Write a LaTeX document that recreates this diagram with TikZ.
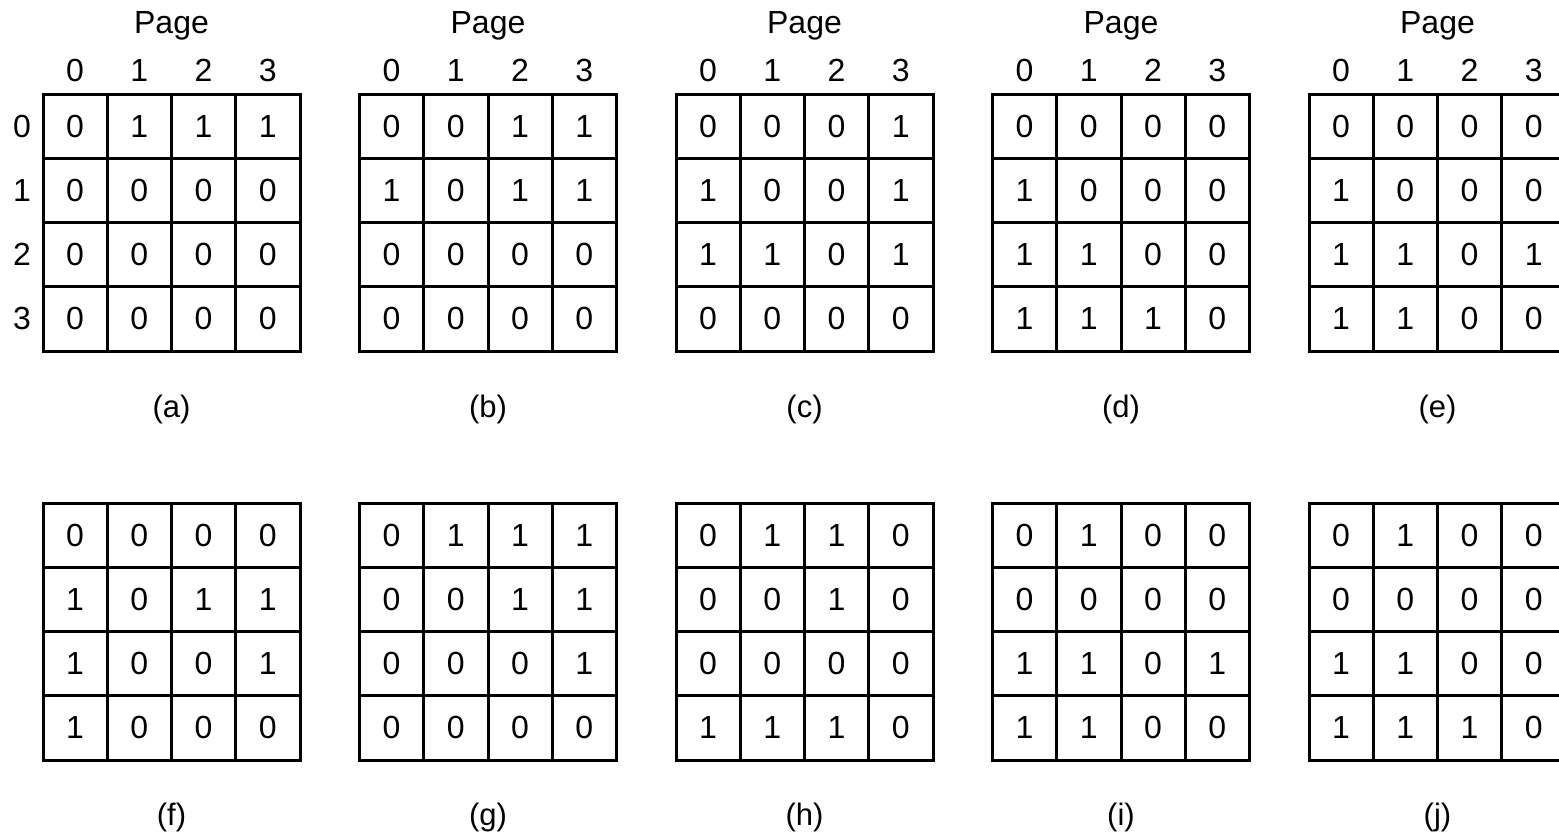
\documentclass[tikz,border=0pt]{standalone}
\usepackage{fontspec}
\setmainfont{Liberation Sans}
\newcommand\mkrow[8]{%
  \foreach \dg/\cl in {#5/0,#6/1,#7/2,#8/3}{%
    \node[cell] (#1-#2-\cl) at ({#3+(\cl+0.5)*64.25},{#4+(#2+0.5)*64.25}) {\dg};
  }}
\begin{document}
\begin{tikzpicture}[x=1pt,y=-1pt,
  cell/.style={draw, line width=3pt, minimum size=64.25pt, inner sep=0pt, font=\fontsize{32}{38}\selectfont},
  lbl/.style={font=\fontsize{32}{38}\selectfont, inner sep=0pt},
  hdr/.style={font=\fontsize{32}{38}\selectfont, inner sep=0pt, anchor=base},
  capt/.style={font=\fontsize{31}{37}\selectfont, inner sep=0pt, anchor=base}]
\useasboundingbox (0,0) rectangle (1559,836);
\clip (0,0) rectangle (1559,836);
\foreach \name/\gx/\gy/\ra/\rb/\rc/\rd/\cy in {
  a/43/94/0111/0000/0000/0000/417,
  b/359.5/94/0011/1011/0000/0000/417,
  c/676/94/0001/1001/1101/0000/417,
  d/992.5/94/0000/1000/1100/1110/417,
  e/1309/94/0000/1000/1101/1100/417,
  f/43/503/0000/1011/1001/1000/825,
  g/359.5/503/0111/0011/0001/0000/825,
  h/676/503/0110/0010/0000/1110/825,
  i/992.5/503/0100/0000/1101/1100/825,
  j/1309/503/0100/0000/1100/1110/825}{
  \foreach \rw [count=\ri from 0] in {\ra,\rb,\rc,\rd}{
    \edef\tmprow{\noexpand\mkrow{\name}{\ri}{\gx}{\gy}\rw}\tmprow
  }
  \node[capt] (cap-\name) at ({\gx+128.5},\cy) {(\name)};
}
% Page headers and column numbers for the top row
\foreach \name/\gx in {a/43,b/359.5,c/676,d/992.5,e/1309}{
  \node[hdr] (page-\name) at ({\gx+128.5},33) {Page};
  \foreach \cl in {0,1,2,3}{
    \node[hdr] (col-\name-\cl) at ({\gx+(\cl+0.5)*64.25},81) {\cl};
  }
}
% Row numbers for (a)
\foreach \rw in {0,1,2,3}{
  \node[lbl] (row-\rw) at (22,{94+(\rw+0.5)*64.25}) {\rw};
}
\end{tikzpicture}
\end{document}
